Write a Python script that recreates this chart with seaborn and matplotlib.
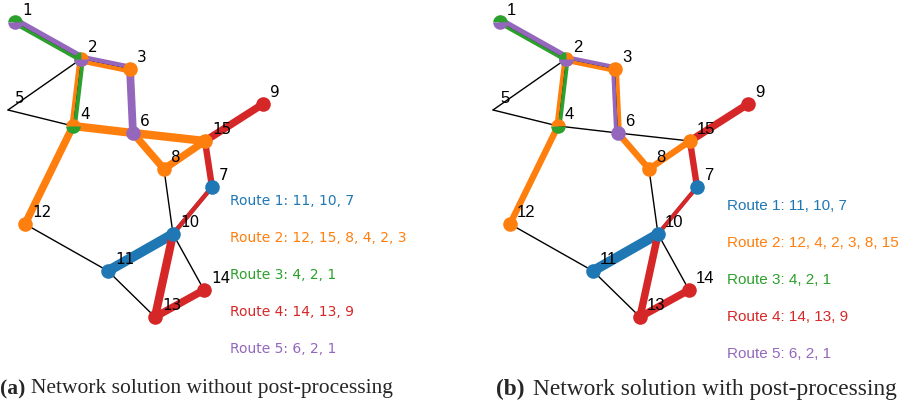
# network_routes.py
# Route network: solution without / with post-processing
# ─────────────────────────────────────────────────────

import numpy as np
import matplotlib.pyplot as plt
import seaborn as sns
from matplotlib.transforms import offset_copy

sns.set_theme(style='white')
plt.rcParams['font.family'] = ['DejaVu Sans']

# ── Data ──────────────────────────────────────
node_ids = [1, 2, 3, 4, 5, 6, 7, 8, 9, 10, 11, 12, 13, 14, 15]
node_x = [15, 81, 130, 73, 8, 133, 212, 164, 263, 173, 108, 25, 155, 204, 205]
node_y = [22, 59, 69, 126, 110, 133, 187, 169, 104, 234, 271, 224, 317, 290, 141]

# routes each node is drawn with (empty = no marker)
node_routes = [[3, 5], [3, 2, 5], [2], [2, 3], [], [5], [1], [2], [4],
               [1], [1], [2], [4], [4], [2]]

edge_u = [1, 2, 2, 2, 5, 4, 3, 6, 6, 8, 15, 15, 8, 7, 4, 12, 11, 11, 10, 10, 13]
edge_v = [2, 3, 4, 5, 4, 6, 6, 15, 8, 15, 9, 7, 10, 10, 12, 11, 10, 13, 13, 14, 14]

route_names = ['Route 1', 'Route 2', 'Route 3', 'Route 4', 'Route 5']
stops_a = ['11, 10, 7', '12, 15, 8, 4, 2, 3', '4, 2, 1', '14, 13, 9', '6, 2, 1']
stops_b = ['11, 10, 7', '12, 4, 2, 3, 8, 15', '4, 2, 1', '14, 13, 9', '6, 2, 1']

# route edges used in each solution
seg_route_a = [1, 1, 2, 2, 2, 2, 2, 2, 2, 3, 3, 4, 4, 4, 4, 4, 5, 5, 5]
seg_u_a = [11, 10, 12, 4, 6, 15, 8, 2, 2, 2, 1, 14, 13, 10, 7, 15, 3, 2, 1]
seg_v_a = [10, 7, 4, 6, 15, 8, 6, 4, 3, 4, 2, 13, 10, 7, 15, 9, 6, 3, 2]

seg_route_b = [1, 1, 2, 2, 2, 2, 2, 2, 3, 3, 4, 4, 4, 4, 4, 5, 5, 5]
seg_u_b = [11, 10, 12, 2, 2, 3, 6, 8, 2, 1, 14, 13, 10, 7, 15, 3, 2, 1]
seg_v_b = [10, 7, 4, 4, 3, 6, 8, 15, 4, 2, 13, 10, 7, 15, 9, 6, 3, 2]

# ── Styles ────────────────────────────────────
colors = dict(zip([1, 2, 3, 4, 5], sns.color_palette('tab10')[:5]))
# line widths (pt) and side lane for shared edges
lw_a = [7.2, 3.0, 5.4, 6.0, 6.0, 5.4, 5.4, 2.6, 3.2, 2.8, 2.4,
        5.4, 6.0, 3.2, 4.6, 5.4, 5.6, 3.2, 3.6]
lane_a = [0, 0, 0, 0, 0, 0, 0, -1, -1, 1, -1, 0, 0, 0, 0, 0, 0, 1, 1]
lw_b = [7.2, 2.6, 4.6, 2.6, 2.8, 2.8, 4.6, 4.6, 2.6, 2.2,
        5.4, 5.4, 3.0, 4.6, 5.4, 2.8, 2.8, 3.6]
lane_b = [0, 0, 0, -1, -1, 1, 0, 0, 1, -1, 0, 0, 0, 0, 0, -1, 1, 1]

pos = {n: (x, y) for n, x, y in zip(node_ids, node_x, node_y)}

fig = plt.figure(figsize=(9.09, 4.04), dpi=100)
ax_a = fig.add_axes([0, 0, 0.5, 1])
ax_b = fig.add_axes([0.5, 0, 0.5, 1])
ax_a.set_xlim(0, 454.5)
ax_b.set_xlim(-30.5, 424)


def draw_panel(ax, seg_route, seg_u, seg_v, lws, lanes, stops, font, fs_lab,
               fs_leg, leg_x, leg_y0):
    ax.set_ylim(404, 0)
    ax.axis('off')

    # base network
    for u, v in zip(edge_u, edge_v):
        ax.plot([pos[u][0], pos[v][0]], [pos[u][1], pos[v][1]],
                color='black', lw=1.0, zorder=1)

    # routes, shared edges drawn side by side
    for r, u, v, w, lane in zip(seg_route, seg_u, seg_v, lws, lanes):
        (x0, y0), (x1, y1) = pos[u], pos[v]
        d = np.hypot(x1 - x0, y1 - y0)
        nx, ny = (y1 - y0) / d, -(x1 - x0) / d
        off = lane * w / 2
        tr = offset_copy(ax.transData, fig=fig, x=nx * off, y=-ny * off,
                         units='points')
        ax.plot([x0, x1], [y0, y1], color=colors[r], lw=w,
                solid_capstyle='butt', transform=tr, zorder=2)

    # nodes
    for n, rs in zip(node_ids, node_routes):
        x, y = pos[n]
        kw = dict(marker='o', ms=10.5, mew=0, ls='', zorder=3)
        if len(rs) == 1:
            ax.plot(x, y, mfc=colors[rs[0]], **kw)
        elif len(rs) == 2:
            ax.plot(x, y, fillstyle='top', mfc=colors[rs[0]],
                    mfcalt=colors[rs[1]], **kw)
        elif len(rs) == 3:
            ax.plot(x, y, fillstyle='left', mfc=colors[rs[0]],
                    mfcalt=colors[rs[1]], **kw)
            ax.plot(x, y, fillstyle='bottom', mfc=colors[rs[2]],
                    mfcalt='none', **kw)
        ax.annotate(str(n), (x, y), xytext=(5, 5), textcoords='offset points',
                    ha='left', va='baseline', fontsize=fs_lab, family=font,
                    color='black', zorder=4)

    # route legend
    for i, (name, s) in enumerate(zip(route_names, stops)):
        ax.text(leg_x, leg_y0 + i * 37, f'{name}: {s}', color=colors[i + 1],
                fontsize=fs_leg, family=font, ha='left', va='center')


draw_panel(ax_a, seg_route_a, seg_u_a, seg_v_a, lw_a, lane_a, stops_a,
           'DejaVu Sans', 11, 10, 230, 201)
draw_panel(ax_b, seg_route_b, seg_u_b, seg_v_b, lw_b, lane_b, stops_b,
           'Liberation Sans', 12, 11, 242, 206)

# ── Captions ──────────────────────────────────
cap_y = 1 - 389 / 404
fig.text(0 / 909, cap_y, '(a)', family='Liberation Serif', fontsize=15.5,
         fontweight='bold', va='center', ha='left')
fig.text(31 / 909, cap_y, 'Network solution without post-processing',
         family='Liberation Serif', fontsize=15.5, va='center', ha='left')
fig.text(496 / 909, cap_y, '(b)', family='Liberation Serif', fontsize=16.8,
         fontweight='bold', va='center', ha='left')
fig.text(533 / 909, cap_y, 'Network solution with post-processing',
         family='Liberation Serif', fontsize=16.8, va='center', ha='left')

fig.savefig('out.png', dpi=100)
